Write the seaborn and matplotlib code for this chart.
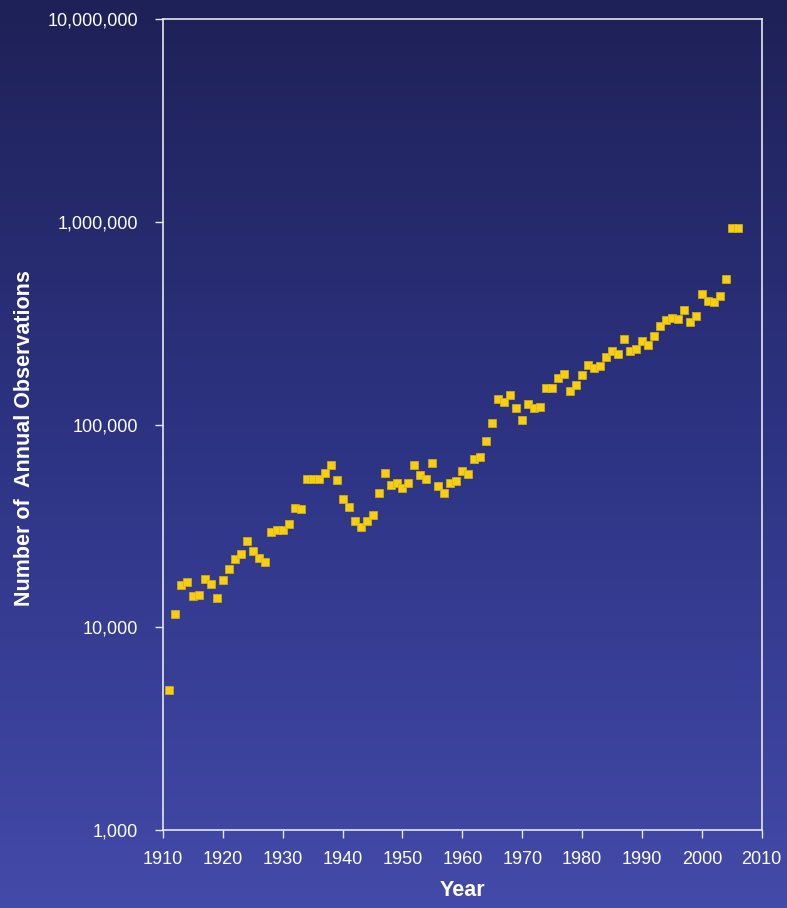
import numpy as np
import pandas as pd
import matplotlib
matplotlib.use('Agg')
import matplotlib.pyplot as plt
import matplotlib.ticker as mticker
from matplotlib.colors import LinearSegmentedColormap
import seaborn as sns

years = [1911, 1912, 1913, 1914, 1915, 1916, 1917, 1918, 1919, 1920,
         1921, 1922, 1923, 1924, 1925, 1926, 1927, 1928, 1929, 1930,
         1931, 1932, 1933, 1934, 1935, 1936, 1937, 1938, 1939, 1940,
         1941, 1942, 1943, 1944, 1945, 1946, 1947, 1948, 1949, 1950,
         1951, 1952, 1953, 1954, 1955, 1956, 1957, 1958, 1959, 1960,
         1961, 1962, 1963, 1964, 1965, 1966, 1967, 1968, 1969, 1970,
         1971, 1972, 1973, 1974, 1975, 1976, 1977, 1978, 1979, 1980,
         1981, 1982, 1983, 1984, 1985, 1986, 1987, 1988, 1989, 1990,
         1991, 1992, 1993, 1994, 1995, 1996, 1997, 1998, 1999, 2000,
         2001, 2002, 2003, 2004, 2005, 2006]
observations = [4900, 11600, 16100, 16800, 14200, 14400, 17400, 16300, 14000, 17200,
                19300, 21700, 22900, 26700, 23800, 22000, 21100, 29400, 30200, 30200,
                32400, 38700, 38300, 53700, 53700, 53700, 57700, 63000, 53100, 42800,
                39300, 33600, 31200, 33300, 35700, 45700, 57700, 50400, 51700, 48900,
                51200, 63500, 56100, 53700, 64500, 49500, 45900, 51300, 52500, 58800,
                56700, 67300, 69100, 82800, 101500, 133900, 128900, 139400, 120200, 105000,
                125600, 120200, 121500, 151600, 151600, 170500, 177000, 146900, 156300, 176300,
                196800, 189400, 193800, 214600, 231500, 222900, 263200, 229500, 235000, 259200,
                247700, 274400, 304900, 327900, 336600, 332600, 365600, 321500, 341800, 438600,
                408000, 403300, 430600, 522400, 930700, 930700]

x_ticks = list(range(1910, 2011, 10))
y_ticks = [1e3, 1e4, 1e5, 1e6, 1e7]

df = pd.DataFrame({'Year': years, 'Observations': observations})

sns.set_style('ticks')
plt.rcParams['font.family'] = ['Liberation Sans', 'DejaVu Sans']

fig = plt.figure(figsize=(7.87, 9.08), dpi=100)

# gradient backdrop over the whole figure
bg = fig.add_axes([0, 0, 1, 1], zorder=-10)
cmap = LinearSegmentedColormap.from_list('bg', ['#1e2157', '#2e3484', '#434aa9'])
bg.imshow(np.linspace(0, 1, 256).reshape(-1, 1), aspect='auto', cmap=cmap,
          extent=[0, 1, 0, 1], origin='upper')
bg.axis('off')

ax = fig.add_axes([0.2071, 0.0859, 0.7608, 0.8931])
ax.patch.set_alpha(0)

sns.scatterplot(data=df, x='Year', y='Observations', ax=ax, marker='s',
                s=27, color='#f5cf12', edgecolor='#dcb30e', linewidth=0.5, zorder=3)

ax.set_yscale('log')
ax.set_xlim(1910, 2010)
ax.set_ylim(1e3, 1e7)
ax.set_xticks(x_ticks)
ax.set_yticks(y_ticks)
ax.yaxis.set_minor_locator(mticker.NullLocator())
ax.yaxis.set_major_formatter(mticker.FuncFormatter(lambda v, p: '{:,.0f}'.format(v)))

ax.tick_params(axis='both', colors='#e8e8f0', labelcolor='white', labelsize=13,
               direction='out', length=6, width=1)
ax.tick_params(axis='x', pad=9)
ax.tick_params(axis='y', pad=12)
for sp in ax.spines.values():
    sp.set_color('#e6e6ee')
    sp.set_linewidth(1.2)
    sp.set_visible(True)

ax.set_xlabel('Year', color='white', fontsize=15.5, fontweight='bold', labelpad=9)
ax.set_ylabel('')
fig.text(25 / 787, 1 - 438 / 908, 'Number of  Annual Observations', color='white',
         fontsize=15.5, fontweight='bold', rotation=90, ha='center', va='center')

fig.savefig('out.png', dpi=100)
